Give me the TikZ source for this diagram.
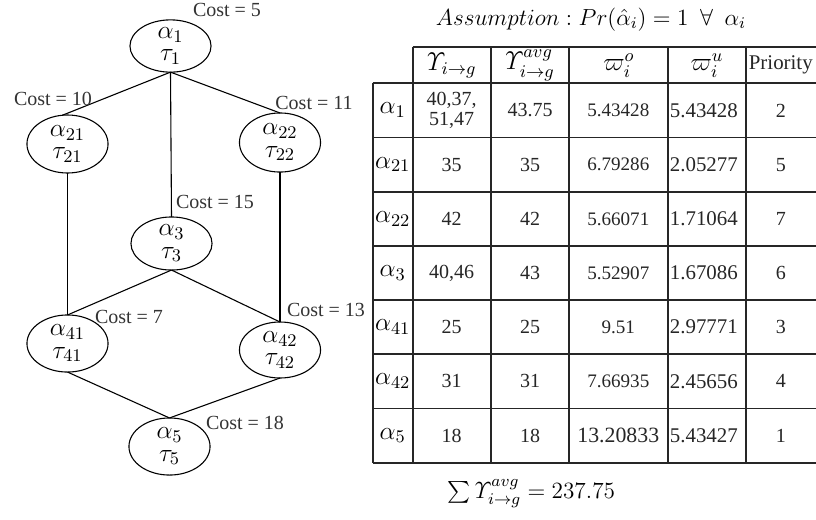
\RequirePackage{fix-cm}
\documentclass[tikz,border=0pt]{standalone}
\usepackage{amsmath}
\usepackage[no-math]{fontspec}
\setmainfont{Liberation Serif}
\usetikzlibrary{shapes.geometric}

\begin{document}
\begin{tikzpicture}[x=0.55pt,y=-0.55pt,
  task/.style={ellipse,draw,line width=0.6pt,inner sep=0pt,outer sep=0pt,
    minimum width=44.6pt,align=center,font=\fontsize{14}{12.2}\selectfont},
  cost/.style={inner sep=0pt,font=\fontsize{11}{12}\selectfont,text=black!80},
  edge/.style={line width=0.6pt},
  grid/.style={line width=0.9pt,draw=black!85},
  cell/.style={inner sep=0pt,align=center,font=\fontsize{11}{11.5}\selectfont,text=black!85},
  wcell/.style={cell,font=\fontsize{11.5}{12}\selectfont},
  ncell/.style={cell,font=\fontsize{10.5}{12}\selectfont},
  mcell/.style={inner sep=0pt,font=\fontsize{14}{14}\selectfont},
  big/.style={font=\fontsize{12.8}{14}\selectfont}
]
\useasboundingbox (0,0) rectangle (816,519);

% ---- task graph ----
\node[task,minimum height=28.6pt] (a1)  at (170.5,46)   {$\alpha_1$\\$\tau_1$};
\node[task,minimum height=31.9pt] (a21) at (67.5,144)   {$\alpha_{21}$\\$\tau_{21}$};
\node[task,minimum height=32.5pt] (a22) at (280,142.5)  {$\alpha_{22}$\\$\tau_{22}$};
\node[task,minimum height=29.2pt] (a3)  at (171.5,243.5){$\alpha_3$\\$\tau_3$};
\node[task,minimum height=31.4pt] (a41) at (67.5,343.5) {$\alpha_{41}$\\$\tau_{41}$};
\node[task,minimum height=30.8pt] (a42) at (280,350)    {$\alpha_{42}$\\$\tau_{42}$};
\node[task,minimum height=31.4pt] (a5)  at (169.5,446.5){$\alpha_5$\\$\tau_5$};

\draw[edge] (a1.south) -- (a21.100);
\draw[edge] (a1.south) -- (a22.north);
\draw[edge] (a1.south) -- (a3.north);
\draw[edge] (a21.south) -- (a41.north);
\draw[edge] (a22.south) -- (a42.north);
\draw[edge] (a3.south) -- (a41.north);
\draw[edge] (a3.south) -- (a42.north);
\draw[edge] (a41.south) -- (a5.north);
\draw[edge] (a42.south) -- (a5.north);

\node[cost] (c1)  at (227,10)  {Cost = 5};
\node[cost] (c21) at (53,99)   {Cost = 10};
\node[cost] (c22) at (314,103) {Cost = 11};
\node[cost] (c3)  at (215,202) {Cost = 15};
\node[cost] (c41) at (129,317) {Cost = 7};
\node[cost] (c42) at (326,310) {Cost = 13};
\node[cost] (c5)  at (245,423) {Cost = 18};

% ---- table ----
\node[anchor=base,big] (title) at (591,25)
  {$Assumption: Pr(\hat{\alpha}_i) = 1\ \ \forall\ \ \alpha_i$};

\foreach \x in {412.7,490.7,569.3,668.3,745.7}
  \draw[grid] (\x,47.3) -- (\x,462.7);
\draw[grid] (372.7,83.3) -- (372.7,462.7);
\draw[grid] (412.7,47.3) -- (816,47.3);
\foreach \y in {83.3,137.5,191.7,245.9,300.1,354.3,408.5,462.7}
  \draw[grid] (372.7,\y) -- (816,\y);

\node[mcell] (h1) at (451.7,65.3) {$\varUpsilon_{i\rightarrow g}$};
\node[mcell] (h2) at (530,65.3)   {$\varUpsilon^{avg}_{i\rightarrow g}$};
\node[mcell] (h3) at (618.8,65.3) {$\varpi^{o}_{i}$};
\node[mcell] (h4) at (707,65.3)   {$\varpi^{u}_{i}$};
\node[wcell] (h5) at (780.8,65.3) {Priority};

\foreach \r/\lab/\va/\vb/\vc/\vd/\ve in {
  1/{\alpha_1}/{40,37,\\51,47}/43.75/5.43428/5.43428/2,
  2/{\alpha_{21}}/35/35/6.79286/2.05277/5,
  3/{\alpha_{22}}/42/42/5.66071/1.71064/7,
  4/{\alpha_3}/{40,46}/43/5.52907/1.67086/6,
  5/{\alpha_{41}}/25/25/9.51/2.97771/3,
  6/{\alpha_{42}}/31/31/7.66935/2.45656/4,
  7/{\alpha_5}/18/18/{\fontsize{12}{12}\selectfont 13.20833}/5.43427/1}{
  \pgfmathsetmacro\yy{83.3+54.2*(\r-0.5)}
  \node[mcell] (r\r c0) at (392.7,\yy) {$\lab$};
  \node[cell]  (r\r c1) at (451.7,\yy) {\va};
  \node[cell]  (r\r c2) at (530,\yy)   {\vb};
  \node[ncell] (r\r c3) at (618.3,\yy) {\vc};
  \node[wcell,anchor=west] (r\r c4) at (669.5,\yy) {\vd};
  \node[cell]  (r\r c5) at (780.8,\yy) {\ve};
}

\node[anchor=base,big] (sum) at (531.5,498)
  {$\sum \varUpsilon^{avg}_{i\rightarrow g} = 237.75$};
\end{tikzpicture}
\end{document}
